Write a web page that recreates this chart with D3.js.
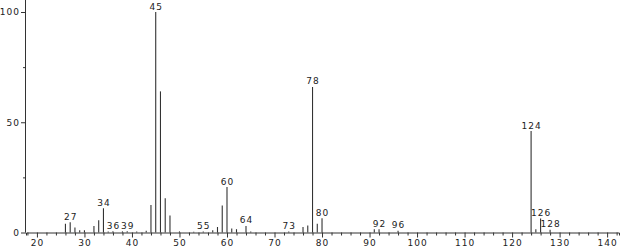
<!DOCTYPE html>
<html>
<head>
<meta charset="utf-8">
<script src="https://cdn.jsdelivr.net/npm/d3@7"></script>
<style>
  body { margin: 0; background: #fff; }
  svg text { font-family: "DejaVu Sans", Verdana, sans-serif; font-size: 9px; fill: #222; letter-spacing: 1px; }
</style>
</head>
<body>
<div id="chart"></div>
<script>
// m/z and relative intensity of each peak
const mz = [26, 27, 28, 29, 30, 32, 33, 34, 35, 36, 38, 39, 41, 43, 44, 45, 46, 47, 48, 50,
  53, 55, 57, 58, 59, 60, 61, 62, 64, 65, 73, 76, 77, 78, 79, 80, 91, 92, 96, 124, 125, 126, 128];
const intensity = [4, 4.7, 2.3, 1, 1, 3, 5.5, 11, 0.5, 0.6, 0.5, 0.6, 0.5, 0.8, 12.5, 100, 64, 15.5, 7.7, 0.5,
  0.3, 0.5, 1, 2.5, 12.3, 20.6, 1.8, 1.5, 3, 0.5, 0.5, 2.5, 3.2, 66, 4, 6.5, 1.5, 1.5, 0.8, 46, 1.5, 6.4, 1.2];
// peaks that carry a label
const labelled = [27, 34, 36, 39, 45, 55, 60, 64, 73, 78, 80, 92, 96, 124, 126, 128];
const xTicks = [20, 30, 40, 50, 60, 70, 80, 90, 100, 110, 120, 130, 140];
const yTicks = [0, 50, 100];

const W = 621, H = 249;
const svg = d3.select('#chart').append('svg').attr('width', W).attr('height', H);

const x = d3.scaleLinear().domain([17.7, 142.5]).range([26, 619]);
const y = d3.scaleLinear().domain([0, 100]).range([232.5, 12]);

const peaks = mz.map((m, i) => ({ m, v: intensity[i] }));

// sticks
svg.selectAll('line.peak')
  .data(peaks)
  .enter()
  .append('line')
  .attr('class', 'peak')
  .attr('x1', d => x(d.m))
  .attr('x2', d => x(d.m))
  .attr('y1', y(0))
  .attr('y2', d => y(d.v))
  .attr('stroke', '#333')
  .attr('stroke-width', 1.1);

// x axis: minor every 2, labels every 10
const xAxis = d3.axisBottom(x)
  .tickValues(d3.range(18, 143, 2))
  .tickSize(3)
  .tickFormat(d => (xTicks.includes(d) ? d : ''));
const gx = svg.append('g').attr('transform', `translate(0,${y(0)})`).call(xAxis);
gx.select('.domain').attr('stroke', '#333');
gx.selectAll('.tick line').attr('stroke', '#333')
  .attr('y2', d => (xTicks.includes(d) ? 5 : 3));
gx.selectAll('.tick text').attr('y', 7).attr('font-size', null).attr('font-family', null);

// y axis
const yAxis = d3.axisLeft(y)
  .tickValues([0, 25, 50, 75, 100])
  .tickSize(3)
  .tickFormat(d => (yTicks.includes(d) ? d : ''));
const gy = svg.append('g').attr('transform', `translate(${x.range()[0]},0)`).call(yAxis);
gy.select('.domain').attr('stroke', '#333').attr('d', `M-0.5,0V${y(0)}`);
gy.selectAll('.tick line').attr('stroke', '#333')
  .attr('x2', d => (yTicks.includes(d) ? -5 : -3));
gy.selectAll('.tick text').attr('x', -6).attr('font-size', null).attr('font-family', null);

// peak labels
svg.selectAll('text.lbl')
  .data(peaks.filter(d => labelled.includes(d.m)))
  .enter()
  .append('text')
  .attr('class', 'lbl')
  .attr('text-anchor', 'middle')
  .attr('x', d => x(d.m) + 0.5)
  .attr('y', d => y(d.v) - 2.5)
  .text(d => d.m);
</script>
</body>
</html>
